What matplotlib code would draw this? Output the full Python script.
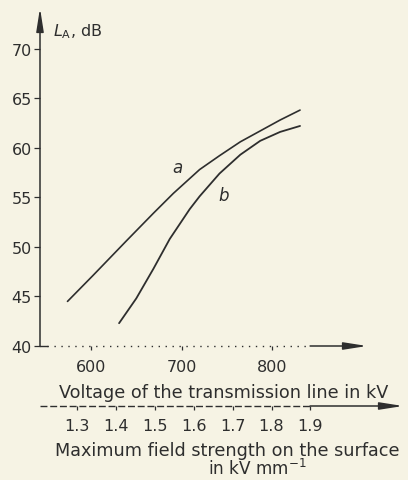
import matplotlib
matplotlib.use("Agg")
import matplotlib.pyplot as plt

# ---- data ----
voltage_a = [574, 602, 639, 669, 691, 720, 742, 765, 787, 809, 831]
level_a = [44.5, 47.1, 50.6, 53.4, 55.4, 57.8, 59.2, 60.6, 61.7, 62.8, 63.8]
voltage_b = [631, 650, 669, 687, 709, 720, 742, 765, 787, 809, 831]
level_b = [42.3, 44.8, 47.8, 50.8, 53.8, 55.1, 57.4, 59.3, 60.7, 61.6, 62.2]
y_ticks = [40, 45, 50, 55, 60, 65, 70]
x_ticks = [600, 700, 800]
field_ticks = [1.3, 1.4, 1.5, 1.6, 1.7, 1.8, 1.9]
field_tick_labels = ["1.3", "1.4", "1.5", "1.6", "1.7", "1.8", "1.9"]

BG = "#f6f3e4"
INK = "#2e2e2e"
FS = 11.5
LFS = 12.7

plt.rcParams['font.family'] = ['DejaVu Sans']
plt.rcParams['mathtext.fontset'] = 'dejavusans'

W, H = 408, 481
fig = plt.figure(figsize=(W / 100, H / 100), dpi=100)
fig.patch.set_facecolor(BG)
ax = fig.add_axes([40 / W, 1 - 347 / H, 327 / W, 338 / H])
ax.set_facecolor(BG)
ax.set_xlim(543.6, 905)
ax.set_ylim(40, 74.1)
for s in ax.spines.values():
    s.set_visible(False)

ax.plot(voltage_a, level_a, color=INK, lw=1.2, solid_capstyle='round', solid_joinstyle='round')
ax.plot(voltage_b, level_b, color=INK, lw=1.3, solid_capstyle='round', solid_joinstyle='round')
ax.text(695, 58.1, "a", style='italic', fontsize=12, color=INK, ha='center', va='center')
ax.text(747, 55.25, "b", style='italic', fontsize=12, color=INK, ha='center', va='center')

ARROW = '-|>,head_length=1.4,head_width=0.22'
# y axis with arrow
ax.annotate('', xy=(0, 1), xytext=(0, 0), xycoords='axes fraction',
            arrowprops=dict(arrowstyle=ARROW, lw=1.1, color=INK, mutation_scale=10,
                            shrinkA=0, shrinkB=0))
# bottom axis: dotted, then solid arrow
ax.plot([0, 0.02], [0, 0], transform=ax.transAxes, color=INK, lw=1.0, clip_on=False)
ax.plot([0.02, 0.826], [0, 0], transform=ax.transAxes, color=INK, lw=1.0,
        ls=(0, (1, 4)), clip_on=False)
ax.annotate('', xy=(1, 0), xytext=(0.826, 0), xycoords='axes fraction',
            arrowprops=dict(arrowstyle=ARROW, lw=1.1, color=INK, mutation_scale=10,
                            shrinkA=0, shrinkB=0))

ax.set_yticks(y_ticks)
ax.set_xticks(x_ticks)
ax.tick_params(axis='y', direction='out', length=4.5, width=0.9, pad=1.5,
               labelsize=FS, colors=INK)
ax.tick_params(axis='x', direction='out', length=3, width=0.9, pad=6.5,
               labelsize=FS, colors=INK)

ax.text(13 / 327, (347 - 32) / 338, r"$L_{\mathrm{A}}$, dB", transform=ax.transAxes,
        fontsize=FS, color=INK, ha='left', va='center')

# secondary (field strength) axis
sec_y = (347 - 407) / 338
def fwd(v):
    return 1.3 + (v - 584.5) / 430.0
def inv(f):
    return 584.5 + (f - 1.3) * 430.0
sec = ax.secondary_xaxis(sec_y, functions=(fwd, inv))
sec.set_xticks(field_ticks)
sec.set_xticklabels(field_tick_labels)
for s in sec.spines.values():
    s.set_visible(False)
sec.tick_params(direction='out', length=3, width=0.9, pad=5.5, labelsize=FS, colors=INK)

ax.plot([0, 0.826], [sec_y, sec_y], transform=ax.transAxes, color=INK, lw=1.0,
        ls=(0, (5, 2)), clip_on=False)
ax.annotate('', xy=(363 / 327, sec_y), xytext=(0.826, sec_y), xycoords='axes fraction',
            arrowprops=dict(arrowstyle=ARROW, lw=1.1, color=INK, mutation_scale=10,
                            shrinkA=0, shrinkB=0))

fig.text(224 / W, 1 - 393 / H, "Voltage of the transmission line in kV", fontsize=LFS,
         color=INK, ha='center', va='center')
fig.text(227 / W, 1 - 451 / H, "Maximum field strength on the surface", fontsize=LFS,
         color=INK, ha='center', va='center')
fig.text(257 / W, 1 - 469 / H, r"in kV mm$^{-1}$", fontsize=12.2,
         color=INK, ha='center', va='center')

fig.savefig("out.png", dpi=100, facecolor=BG)
